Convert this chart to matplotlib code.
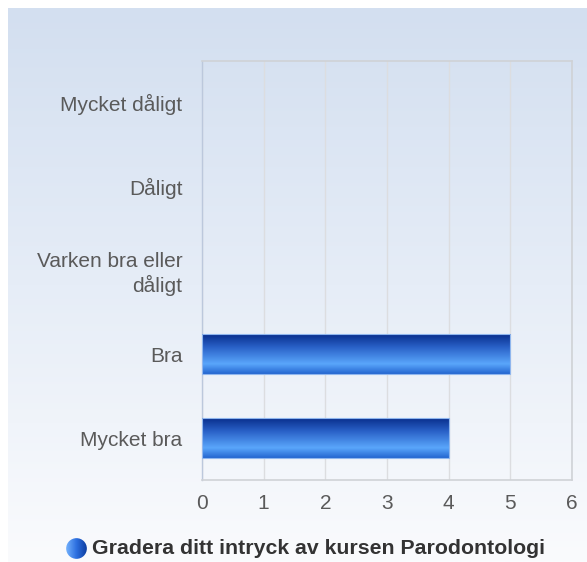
import numpy as np
import matplotlib
matplotlib.use("Agg")
import matplotlib.pyplot as plt
from matplotlib.colors import LinearSegmentedColormap
from matplotlib.patches import Circle

categories = ["Mycket dåligt", "Dåligt", "Varken bra eller\ndåligt", "Bra", "Mycket bra"]
values = [0, 0, 0, 5, 4]
xticks = [0, 1, 2, 3, 4, 5, 6]
title = "Gradera ditt intryck av kursen Parodontologi"

plt.rcParams['font.family'] = ['Liberation Sans', 'DejaVu Sans']

W, H = 587, 562
fig = plt.figure(figsize=(W / 100, H / 100), dpi=100)
fig.patch.set_facecolor('white')

# background gradient panel
bg = fig.add_axes([8 / W, 0, 1 - 8 / W, 1 - 8 / H])
bg.set_axis_off()
bgcmap = LinearSegmentedColormap.from_list('bg', ['#d3dff0', '#e6edf7', '#fafbfd'])
grad = np.linspace(0, 1, 256).reshape(-1, 1)
bg.imshow(grad, aspect='auto', cmap=bgcmap, extent=[0, 1, 0, 1], origin='upper')
bg.set_xlim(0, 1)
bg.set_ylim(0, 1)

ax = fig.add_axes([202 / W, 1 - 480 / H, 370 / W, 419 / H])
ax.patch.set_alpha(0)
y = np.arange(len(categories))
bars = ax.barh(y, values, height=0.48, color='none', edgecolor='none', zorder=3)

barcmap = LinearSegmentedColormap.from_list(
    'bar', [(0.0, '#062a88'), (0.35, '#2a62c8'), (0.75, '#5aa6fb'), (1.0, '#2466d0')])
for b in bars:
    if b.get_width() <= 0:
        continue
    x0, y0, w, h = b.get_x(), b.get_y(), b.get_width(), b.get_height()
    im = ax.imshow(grad, aspect='auto', cmap=barcmap,
                   extent=[x0, x0 + w, y0 + h, y0], origin='upper', zorder=3)
    im.set_clip_path(b)
    ax.add_patch(plt.Rectangle((x0, y0), w, h, fill=False, edgecolor='#8fb6ee',
                               linewidth=0.8, zorder=4))

ax.set_xlim(0, 6)
ax.set_ylim(len(categories) - 0.5, -0.5)
ax.set_aspect('auto')
ax.set_xticks(xticks)
ax.set_xticklabels([str(t) for t in xticks])
ax.set_yticks(y)
ax.set_yticklabels(categories, ha='right', multialignment='right', linespacing=1.2)
ax.tick_params(axis='both', colors='#5a5a5a', labelsize=15, length=0)
ax.tick_params(axis='x', pad=10)
ax.tick_params(axis='y', pad=14)
ax.xaxis.grid(True, color='#dcdde0', linewidth=1, zorder=0)
ax.set_axisbelow(True)
for s in ['top', 'right', 'bottom']:
    ax.spines[s].set_color('#cfd2d6')
    ax.spines[s].set_linewidth(1.2)
ax.spines['left'].set_color('#bcc8dc')
ax.spines['left'].set_linewidth(1)

# legend / title at bottom
fig.text(92 / W, 1 - 549 / H, title, fontsize=15.3, fontweight='bold',
         color='#333333', va='center', ha='left')
lax = fig.add_axes([65 / W, 1 - 560 / H, 23 / W, 23 / H])
lax.set_axis_off()
lax.set_xlim(0, 1)
lax.set_ylim(0, 1)
lcmap = LinearSegmentedColormap.from_list('leg', ['#7ab8ff', '#2d6fe0', '#0b3a9a'])
lim = lax.imshow(np.linspace(0, 1, 64).reshape(1, -1), aspect='auto', cmap=lcmap,
                 extent=[0, 1, 0, 1])
circ = Circle((0.5, 0.5), 0.45, transform=lax.transData)
lim.set_clip_path(circ)

fig.savefig('out.png', dpi=100, facecolor='white')
